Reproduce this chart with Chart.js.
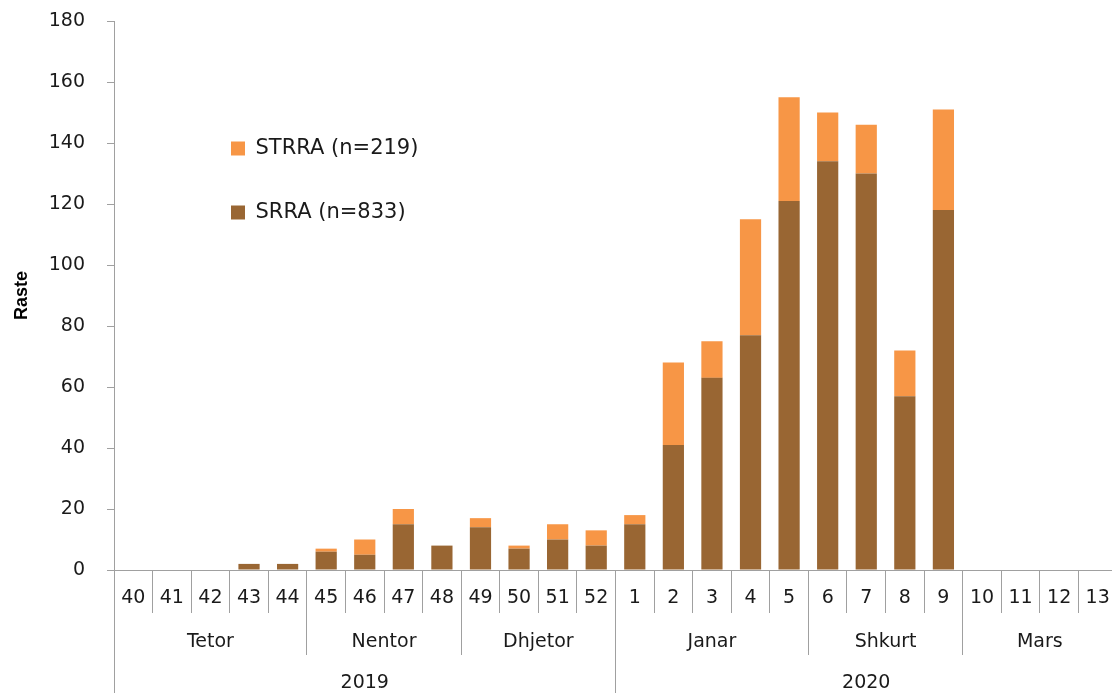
<!DOCTYPE html>
<html><head><meta charset="utf-8">
<script src="https://cdn.jsdelivr.net/npm/chart.js@4"></script>
<style>html,body{margin:0;padding:0;background:#fff;overflow:hidden;}
#wrap{position:relative;width:1117px;height:693px;}</style>
</head><body><div id="wrap"><canvas id="c"></canvas></div>
<script>
const weeks = ['40','41','42','43','44','45','46','47','48','49','50','51','52','1','2','3','4','5','6','7','8','9','10','11','12','13'];
const srra  = [0,0,0,2,2,6,5,15,8,14,7,10,8,15,41,63,77,121,134,130,57,118,0,0,0,0];
const strra = [0,0,0,0,0,1,5,5,0,3,1,5,5,3,27,12,38,34,16,16,15,33,0,0,0,0];
const seriesNames = ['SRRA (n=833)','STRRA (n=219)'];
const months = ['Tetor','Nentor','Dhjetor','Janar','Shkurt','Mars'];
const monthSpans = [5,4,4,5,4,4];
const years = ['2019','2020'];
const yearSpans = [13,13];
const yTickValues = [0,20,40,60,80,100,120,140,160,180];

const lineColor = '#a0a0a0';
const textColor = '#1a1a1a';
const baseFont = {family:'DejaVu Sans', size:19};
const legendFont = {family:'DejaVu Sans', size:21};

function groupTicks(names, spans){
  const t=[{value:0,label:'',edge:true}]; let pos=0;
  names.forEach((n,i)=>{
    t.push({value:pos+spans[i]/2,label:n,edge:false});
    pos+=spans[i];
    t.push({value:pos,label:'',edge:true});
  });
  return t;
}
const monthTicks = groupTicks(months, monthSpans);
const yearTicks = groupTicks(years, yearSpans);

function groupAxis(groups, tl, pad, h, weight){
  return {
    type:'linear', position:'bottom', display:true, min:0, max:weeks.length, weight:weight, offset:false,
    afterBuildTicks: s => { s.ticks = groups.map(g=>({value:g.value})); },
    afterFit: s => { s.height = h; },
    ticks:{autoSkip:false, maxRotation:0, minRotation:0, padding:pad, color:textColor, font:baseFont,
      callback:(v,i)=> groups[i] ? groups[i].label : ''},
    grid:{offset:false, drawOnChartArea:false, drawTicks:true, tickLength:tl, lineWidth:1,
      color: ctx => (groups[ctx.index] && groups[ctx.index].edge) ? lineColor : 'rgba(0,0,0,0)'},
    border:{display:false}
  };
}

const legendPos = {
  id:'legendPos',
  afterLayout(chart){
    const lg = chart.legend; if(!lg) return;
    const p = lg.options.labels.padding;
    lg.left = 231 - p; lg.top = 138 - p;
  }
};

new Chart(document.getElementById('c'), {
  type:'bar',
  data:{
    labels: weeks,
    datasets:[
      {label:seriesNames[0], data:srra, backgroundColor:'#996633', categoryPercentage:1, barPercentage:0.55},
      {label:seriesNames[1], data:strra, backgroundColor:'#F79646', categoryPercentage:1, barPercentage:0.55}
    ]
  },
  options:{
    responsive:true, maintainAspectRatio:false, animation:false,
    layout:{padding:{top:21,left:0,right:0,bottom:0}},
    plugins:{
      tooltip:{enabled:false},
      legend:{position:'chartArea', align:'start', reverse:true,
        labels:{boxWidth:14, boxHeight:14, padding:43, color:textColor, font:legendFont}}
    },
    scales:{
      x:{stacked:true, offset:true, weight:0,
        grid:{offset:true, drawOnChartArea:false, tickLength:43, color:lineColor, lineWidth:1},
        border:{display:true, color:lineColor},
        ticks:{autoSkip:false, maxRotation:0, minRotation:0, padding:-26, color:textColor, font:baseFont},
        afterFit: s => { s.height = 43; }
      },
      months: groupAxis(monthTicks, 42, -24, 42, 1),
      years: groupAxis(yearTicks, 38, -21, 38, 2),
      y:{stacked:true, min:0, max:180,
        afterBuildTicks: s => { s.ticks = yTickValues.map(v=>({value:v})); },
        afterFit: s => { s.width = 114; s.paddingTop = 10; s.paddingBottom = 10; },
        ticks:{padding:22, color:textColor, font:baseFont},
        grid:{drawOnChartArea:false, tickLength:7, color:lineColor},
        border:{display:true, color:lineColor},
        title:{display:true, text:'Raste', color:'#000', font:{family:'Liberation Sans', weight:'bold', size:18}, padding:{top:11,bottom:0}}
      }
    }
  },
  plugins:[legendPos]
});
</script></body></html>
